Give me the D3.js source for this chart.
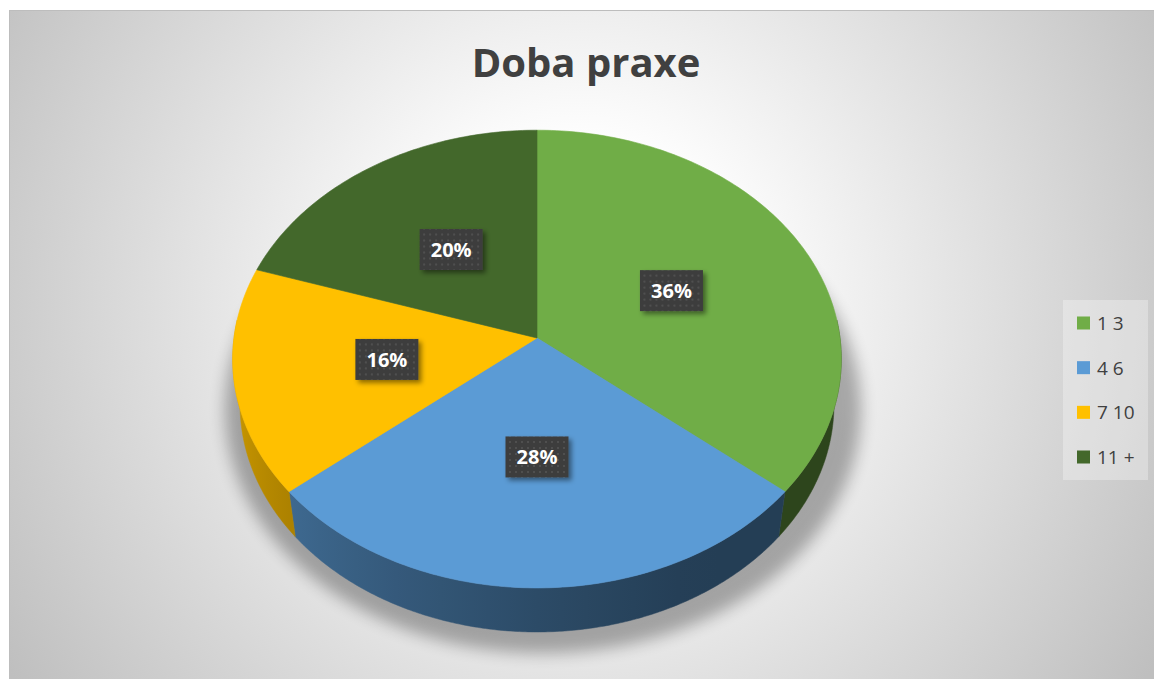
<!DOCTYPE html>
<html>
<head>
<meta charset="utf-8">
<script src="https://cdnjs.cloudflare.com/ajax/libs/d3/7.8.5/d3.min.js"></script>
<style>
  html, body { margin: 0; padding: 0; background: #fff; }
  svg { display: block; }
</style>
</head>
<body>
<div id="chart"></div>
<script>
// Data
const categories = ['1 3', '4 6', '7 10', '11 +'];
const values = [36, 28, 16, 20];
const labels = ['36%', '28%', '16%', '20%'];
const colors = ['#70AD47', '#5B9BD5', '#FFC000', '#43682B'];

const W = 1154, H = 679;

const svg = d3.select('#chart').append('svg')
    .attr('width', W)
    .attr('height', H);

const defs = svg.append('defs');

// background gradient
const bg = defs.append('radialGradient')
    .attr('id', 'bg')
    .attr('gradientUnits', 'userSpaceOnUse')
    .attr('cx', 580).attr('cy', 300).attr('r', 680);
bg.append('stop').attr('offset', 0).attr('stop-color', '#ffffff');
bg.append('stop').attr('offset', 0.22).attr('stop-color', '#ffffff');
bg.append('stop').attr('offset', 1).attr('stop-color', '#bfbfbf');

// dotted pattern for label boxes
const pat = defs.append('pattern')
    .attr('id', 'dots')
    .attr('width', 6).attr('height', 6)
    .attr('patternUnits', 'userSpaceOnUse');
pat.append('rect').attr('width', 6).attr('height', 6).attr('fill', '#3d3d3d');
pat.append('rect').attr('x', 2).attr('y', 2).attr('width', 2).attr('height', 2).attr('fill', '#505050');

const shadowF = defs.append('filter').attr('id', 'lblShadow')
    .attr('x', '-30%').attr('y', '-30%').attr('width', '160%').attr('height', '160%');
shadowF.append('feDropShadow')
    .attr('dx', 3).attr('dy', 3).attr('stdDeviation', 2.5)
    .attr('flood-color', '#000').attr('flood-opacity', 0.45);

const blurF = defs.append('filter').attr('id', 'pieShadow')
    .attr('x', '-20%').attr('y', '-20%').attr('width', '140%').attr('height', '140%');
blurF.append('feGaussianBlur').attr('stdDeviation', 8);

// chart area
svg.append('rect')
    .attr('x', 9.5).attr('y', 10.5)
    .attr('width', W).attr('height', H)
    .attr('fill', 'url(#bg)')
    .attr('stroke', '#bdbdbd')
    .attr('stroke-width', 1);

// Title
svg.append('text')
    .attr('x', 586)
    .attr('y', 77)
    .attr('text-anchor', 'middle')
    .attr('font-family', '"Open Sans", sans-serif')
    .attr('font-weight', 700)
    .attr('font-size', 40)
    .attr('fill', '#404040')
    .text('Doba praxe');

// 3D projection of a tilted disc
const cx = 537, cy = 338;
const focal = 2181.6, dist = 7.2;
const elev = 48.5 * Math.PI / 180;
const sE = Math.sin(elev), cE = Math.cos(elev);
const thick = 0.235;

function project(X, Y, Z) {
    const sy = Z * sE - Y * cE;
    const depth = dist - Z * cE - Y * sE;
    return [cx + focal * X / depth, cy + focal * sy / depth];
}
function rim(a, Y, r = 1) {
    return project(r * Math.sin(a), Y, -r * Math.cos(a));
}

const pie = d3.pie().sort(null).value(d => d)(values);
const line = d3.line();
const step = Math.PI / 180;

// shadow under the pie
const outline = [];
for (let a = 0; a <= 2 * Math.PI + 0.001; a += step) {
    const p = rim(a, -thick, 1.07);
    outline.push([p[0] + 6, p[1] + 2]);
}
svg.append('path')
    .attr('d', line(outline) + 'Z')
    .attr('fill', '#000')
    .attr('opacity', 0.3)
    .attr('filter', 'url(#pieShadow)');

// side faces: visible front half of the rim, one path per slice with a shading gradient
function sideShade(a) {
    const deg = a * 180 / Math.PI;
    let t = (deg - 150) / 120;
    t = Math.max(0, Math.min(1, t));
    return 0.4 + 0.45 * Math.pow(t, 1.2);
}
function shade(col, k) {
    const c = d3.rgb(col);
    return d3.rgb(c.r * k, c.g * k, c.b * k).toString();
}
const frontA = Math.PI / 2 - 0.08, frontB = 3 * Math.PI / 2 + 0.08;
const sides = pie.map((p, i) => {
    const a0 = Math.max(p.startAngle, frontA), a1 = Math.min(p.endAngle, frontB);
    return { i, a0, a1 };
}).filter(s => s.a1 > s.a0);

sides.forEach(s => {
    const x0 = rim(s.a0, 0)[0], x1 = rim(s.a1, 0)[0];
    const g = defs.append('linearGradient')
        .attr('id', 'side' + s.i)
        .attr('gradientUnits', 'userSpaceOnUse')
        .attr('x1', x0).attr('y1', 0).attr('x2', x1).attr('y2', 0);
    const n = 12;
    for (let k = 0; k <= n; k++) {
        const a = s.a0 + (s.a1 - s.a0) * k / n;
        const x = rim(a, 0)[0];
        g.append('stop')
            .attr('offset', (x - x0) / (x1 - x0))
            .attr('stop-color', shade(colors[s.i], sideShade(a)));
    }
});

svg.append('g').selectAll('path')
    .data(sides)
    .join('path')
    .attr('d', s => {
        const top = [], bot = [];
        for (let a = s.a0; a < s.a1; a += step / 2) { top.push(rim(a, 0)); bot.push(rim(a, -thick)); }
        top.push(rim(s.a1, 0)); bot.push(rim(s.a1, -thick));
        return line(top.concat(bot.reverse())) + 'Z';
    })
    .attr('fill', s => `url(#side${s.i})`)
    .attr('stroke', s => `url(#side${s.i})`)
    .attr('stroke-width', 0.5);

// top faces
function topPath(p) {
    const pts = [project(0, 0, 0)];
    for (let a = p.startAngle; a < p.endAngle; a += step) pts.push(rim(a, 0));
    pts.push(rim(p.endAngle, 0));
    return line(pts) + 'Z';
}
svg.append('g').selectAll('path')
    .data(pie)
    .join('path')
    .attr('d', topPath)
    .attr('fill', (d, i) => colors[i])
    .attr('stroke', (d, i) => colors[i])
    .attr('stroke-width', 0.6);

// data labels
const lbl = svg.append('g').selectAll('g')
    .data(pie)
    .join('g')
    .attr('transform', d => {
        const m = (d.startAngle + d.endAngle) / 2;
        const p = rim(m, 0, 0.5);
        return `translate(${p[0]},${p[1]})`;
    });
lbl.append('rect')
    .attr('x', -31.5).attr('y', -20.5)
    .attr('width', 63).attr('height', 41)
    .attr('fill', 'url(#dots)')
    .attr('filter', 'url(#lblShadow)');
lbl.append('text')
    .attr('text-anchor', 'middle')
    .attr('dy', '0.36em')
    .attr('font-family', '"Open Sans", sans-serif')
    .attr('font-weight', 700)
    .attr('font-size', 20)
    .attr('fill', '#fff')
    .text((d, i) => labels[i]);

// Legend
const legY = d3.scalePoint().domain(categories).range([323, 457]);
svg.append('rect')
    .attr('x', 1063).attr('y', 300)
    .attr('width', 85).attr('height', 180)
    .attr('fill', '#ffffff')
    .attr('opacity', 0.3);
const leg = svg.append('g').selectAll('g')
    .data(categories)
    .join('g')
    .attr('transform', d => `translate(1077,${legY(d)})`);
leg.append('rect')
    .attr('x', 0).attr('y', -6.5)
    .attr('width', 13).attr('height', 13)
    .attr('fill', (d, i) => colors[i]);
leg.append('text')
    .attr('x', 20)
    .attr('dy', '0.36em')
    .attr('font-family', '"Open Sans", sans-serif')
    .attr('font-size', 19)
    .attr('fill', '#404040')
    .text(d => d);
</script>
</body>
</html>
